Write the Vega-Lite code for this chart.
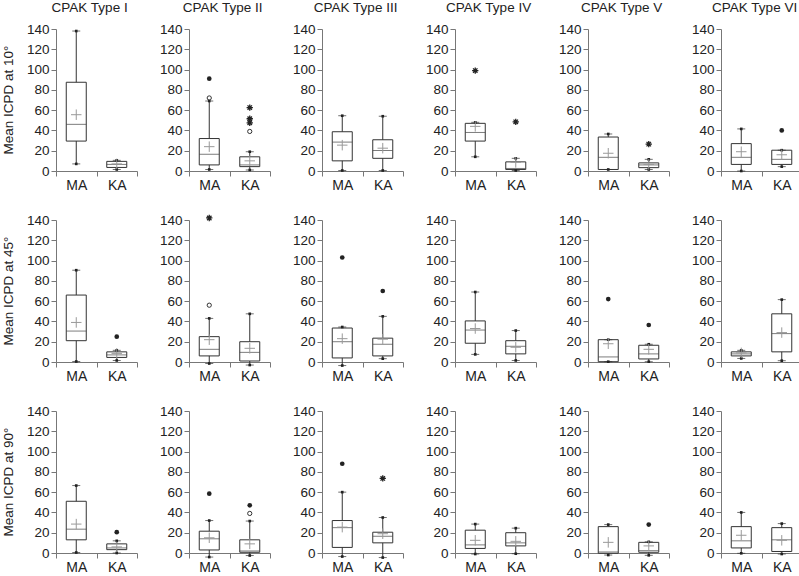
{
  "$schema": "https://vega.github.io/schema/vega-lite/v6.json",
  "background": "white",
  "padding": {"left": 1, "top": 0, "right": 0, "bottom": 0},
  "data": {"values": [
    {"a":"Mean ICPD at 10°","t":"CPAK Type I","g":"MA","k":"box","lo":7,"q1":29.5,"med":46,"q3":87.5,"hi":138,"mean":55.5},
    {"a":"Mean ICPD at 10°","t":"CPAK Type I","g":"KA","k":"box","lo":1.5,"q1":3.5,"med":6.5,"q3":9.5,"hi":10.5,"mean":7},
    {"a":"Mean ICPD at 10°","t":"CPAK Type II","g":"MA","k":"box","lo":1.5,"q1":6,"med":16.5,"q3":32,"hi":69,"mean":24},
    {"a":"Mean ICPD at 10°","t":"CPAK Type II","g":"KA","k":"box","lo":1,"q1":4.3,"med":6,"q3":14,"hi":19,"mean":10},
    {"a":"Mean ICPD at 10°","t":"CPAK Type III","g":"MA","k":"box","lo":0.5,"q1":10,"med":28.5,"q3":38.7,"hi":54.5,"mean":25.5},
    {"a":"Mean ICPD at 10°","t":"CPAK Type III","g":"KA","k":"box","lo":0.5,"q1":12.5,"med":20.2,"q3":30.8,"hi":54,"mean":22.5},
    {"a":"Mean ICPD at 10°","t":"CPAK Type IV","g":"MA","k":"box","lo":14,"q1":29.5,"med":38,"q3":47,"hi":48,"mean":44},
    {"a":"Mean ICPD at 10°","t":"CPAK Type IV","g":"KA","k":"box","lo":0.5,"q1":1.5,"med":2.5,"q3":9,"hi":12.5,"mean":8.5},
    {"a":"Mean ICPD at 10°","t":"CPAK Type V","g":"MA","k":"box","lo":1.5,"q1":1.5,"med":13.5,"q3":33.5,"hi":36.5,"mean":17.5},
    {"a":"Mean ICPD at 10°","t":"CPAK Type V","g":"KA","k":"box","lo":1.5,"q1":3.3,"med":6,"q3":8,"hi":11.5,"mean":6.5},
    {"a":"Mean ICPD at 10°","t":"CPAK Type VI","g":"MA","k":"box","lo":0,"q1":6.5,"med":13.5,"q3":27,"hi":41.5,"mean":19},
    {"a":"Mean ICPD at 10°","t":"CPAK Type VI","g":"KA","k":"box","lo":4.3,"q1":6.5,"med":11.5,"q3":20.5,"hi":20.5,"mean":16},
    {"a":"Mean ICPD at 45°","t":"CPAK Type I","g":"MA","k":"box","lo":0.5,"q1":21,"med":30.5,"q3":66,"hi":90.5,"mean":39},
    {"a":"Mean ICPD at 45°","t":"CPAK Type I","g":"KA","k":"box","lo":1.5,"q1":4.5,"med":7,"q3":10,"hi":11.5,"mean":8.5},
    {"a":"Mean ICPD at 45°","t":"CPAK Type II","g":"MA","k":"box","lo":-1.5,"q1":6,"med":12.5,"q3":25,"hi":43,"mean":22},
    {"a":"Mean ICPD at 45°","t":"CPAK Type II","g":"KA","k":"box","lo":-3,"q1":1,"med":9.5,"q3":20,"hi":47.5,"mean":13.5},
    {"a":"Mean ICPD at 45°","t":"CPAK Type III","g":"MA","k":"box","lo":-3.5,"q1":4,"med":20,"q3":33.5,"hi":34.5,"mean":23},
    {"a":"Mean ICPD at 45°","t":"CPAK Type III","g":"KA","k":"box","lo":3.3,"q1":6,"med":17.5,"q3":23.5,"hi":45,"mean":22.5},
    {"a":"Mean ICPD at 45°","t":"CPAK Type IV","g":"MA","k":"box","lo":7.5,"q1":18.5,"med":31.5,"q3":40.5,"hi":69,"mean":33},
    {"a":"Mean ICPD at 45°","t":"CPAK Type IV","g":"KA","k":"box","lo":1.5,"q1":8,"med":15.5,"q3":21,"hi":31,"mean":14.5},
    {"a":"Mean ICPD at 45°","t":"CPAK Type V","g":"MA","k":"box","lo":0.3,"q1":0.3,"med":5,"q3":22,"hi":22,"mean":18},
    {"a":"Mean ICPD at 45°","t":"CPAK Type V","g":"KA","k":"box","lo":0.3,"q1":3,"med":8,"q3":16.5,"hi":17.5,"mean":12.5},
    {"a":"Mean ICPD at 45°","t":"CPAK Type VI","g":"MA","k":"box","lo":3.5,"q1":6,"med":8,"q3":10,"hi":11.5,"mean":9},
    {"a":"Mean ICPD at 45°","t":"CPAK Type VI","g":"KA","k":"box","lo":1.3,"q1":10,"med":28,"q3":47.5,"hi":61.5,"mean":29},
    {"a":"Mean ICPD at 90°","t":"CPAK Type I","g":"MA","k":"box","lo":0.5,"q1":13,"med":23.5,"q3":51,"hi":66.5,"mean":28.5},
    {"a":"Mean ICPD at 90°","t":"CPAK Type I","g":"KA","k":"box","lo":0,"q1":3.3,"med":5,"q3":9,"hi":12,"mean":6},
    {"a":"Mean ICPD at 90°","t":"CPAK Type II","g":"MA","k":"box","lo":-4,"q1":3,"med":14,"q3":21.5,"hi":32,"mean":15},
    {"a":"Mean ICPD at 90°","t":"CPAK Type II","g":"KA","k":"box","lo":-2.5,"q1":0.7,"med":2,"q3":13,"hi":31.5,"mean":9},
    {"a":"Mean ICPD at 90°","t":"CPAK Type III","g":"MA","k":"box","lo":-3.5,"q1":5.5,"med":25,"q3":32,"hi":60,"mean":25.5},
    {"a":"Mean ICPD at 90°","t":"CPAK Type III","g":"KA","k":"box","lo":-4.5,"q1":10,"med":16.5,"q3":20.5,"hi":35,"mean":19},
    {"a":"Mean ICPD at 90°","t":"CPAK Type IV","g":"MA","k":"box","lo":-1,"q1":4.5,"med":8,"q3":22.5,"hi":28.5,"mean":12.5},
    {"a":"Mean ICPD at 90°","t":"CPAK Type IV","g":"KA","k":"box","lo":-0.7,"q1":7,"med":10,"q3":20,"hi":24.5,"mean":11.5},
    {"a":"Mean ICPD at 90°","t":"CPAK Type V","g":"MA","k":"box","lo":-2,"q1":-0.3,"med":1,"q3":26,"hi":28,"mean":10.5},
    {"a":"Mean ICPD at 90°","t":"CPAK Type V","g":"KA","k":"box","lo":-2.3,"q1":0.7,"med":2.3,"q3":10.5,"hi":11,"mean":7},
    {"a":"Mean ICPD at 90°","t":"CPAK Type VI","g":"MA","k":"box","lo":-0.3,"q1":5,"med":12,"q3":26,"hi":40,"mean":17.5},
    {"a":"Mean ICPD at 90°","t":"CPAK Type VI","g":"KA","k":"box","lo":-1,"q1":1.5,"med":13,"q3":25,"hi":29,"mean":12.5},
    {"a":"Mean ICPD at 10°","t":"CPAK Type II","g":"MA","k":"dot","v":91},
    {"a":"Mean ICPD at 10°","t":"CPAK Type II","g":"MA","k":"circle","v":72},
    {"a":"Mean ICPD at 10°","t":"CPAK Type II","g":"KA","k":"star","v":62.5},
    {"a":"Mean ICPD at 10°","t":"CPAK Type II","g":"KA","k":"star","v":51.5},
    {"a":"Mean ICPD at 10°","t":"CPAK Type II","g":"KA","k":"star","v":47.5},
    {"a":"Mean ICPD at 10°","t":"CPAK Type II","g":"KA","k":"circle","v":39},
    {"a":"Mean ICPD at 10°","t":"CPAK Type IV","g":"MA","k":"star","v":99},
    {"a":"Mean ICPD at 10°","t":"CPAK Type IV","g":"KA","k":"star","v":48.5},
    {"a":"Mean ICPD at 10°","t":"CPAK Type V","g":"KA","k":"star","v":26.5},
    {"a":"Mean ICPD at 10°","t":"CPAK Type VI","g":"KA","k":"dot","v":40},
    {"a":"Mean ICPD at 45°","t":"CPAK Type I","g":"KA","k":"dot","v":25},
    {"a":"Mean ICPD at 45°","t":"CPAK Type II","g":"MA","k":"star","v":142},
    {"a":"Mean ICPD at 45°","t":"CPAK Type II","g":"MA","k":"circle","v":56},
    {"a":"Mean ICPD at 45°","t":"CPAK Type III","g":"MA","k":"dot","v":103},
    {"a":"Mean ICPD at 45°","t":"CPAK Type III","g":"KA","k":"dot","v":70},
    {"a":"Mean ICPD at 45°","t":"CPAK Type V","g":"MA","k":"dot","v":62},
    {"a":"Mean ICPD at 45°","t":"CPAK Type V","g":"KA","k":"dot","v":36.5},
    {"a":"Mean ICPD at 90°","t":"CPAK Type I","g":"KA","k":"dot","v":20.5},
    {"a":"Mean ICPD at 90°","t":"CPAK Type II","g":"MA","k":"dot","v":58.5},
    {"a":"Mean ICPD at 90°","t":"CPAK Type II","g":"KA","k":"dot","v":47},
    {"a":"Mean ICPD at 90°","t":"CPAK Type II","g":"KA","k":"circle","v":39},
    {"a":"Mean ICPD at 90°","t":"CPAK Type III","g":"MA","k":"dot","v":88},
    {"a":"Mean ICPD at 90°","t":"CPAK Type III","g":"KA","k":"star","v":73.5},
    {"a":"Mean ICPD at 90°","t":"CPAK Type V","g":"KA","k":"dot","v":28}
  ]},
  "facet": {
    "row": {"field": "a", "type": "nominal", "title": null,
      "header": {"labelAngle": -90, "labelOrient": "left", "labelPadding": 4, "labelFontSize": 13.5, "labelFont": "Liberation Sans", "labelColor": "#222"}},
    "column": {"field": "t", "type": "nominal", "title": null,
      "sort": ["CPAK Type I","CPAK Type II","CPAK Type III","CPAK Type IV","CPAK Type V","CPAK Type VI"],
      "header": {"labels": false}}
  },
  "spacing": {"row": 20, "column": 21},
  "resolve": {"axis": {"x": "independent", "y": "independent"}},
  "spec": {
    "width": 81,
    "height": 142,
    "encoding": {
      "x": {"field": "g", "type": "nominal",
        "scale": {"domain": ["MA","KA"], "paddingInner": 0, "paddingOuter": 0},
        "axis": {"title": null, "labelAngle": 0, "tickBand": "extent", "labelFontSize": 14, "labelPadding": 2}}
    },
    "layer": [
      {
        "transform": [{"filter": "datum.k == 'box'"}],
        "mark": {"type": "rule", "color": "#333", "strokeWidth": 1},
        "encoding": {
          "y": {"field": "lo", "type": "quantitative", "scale": {"domain": [0, 140], "nice": false},
            "axis": {"title": null, "values": [0,20,40,60,80,100,120,140], "labelFontSize": 13.5, "grid": false, "labelOverlap": false, "labelBound": false}},
          "y2": {"field": "hi"}
        }
      },
      {
        "transform": [{"filter": "datum.k == 'box'"}],
        "mark": {"type": "bar", "width": 20, "fill": "white", "stroke": "#333", "strokeWidth": 1},
        "encoding": {
          "y": {"field": "q1", "type": "quantitative", "axis": {"title": null, "values": [0,20,40,60,80,100,120,140], "labelFontSize": 13.5, "grid": false, "labelOverlap": false, "labelBound": false}},
          "y2": {"field": "q3"}
        }
      },
      {
        "transform": [{"filter": "datum.k == 'box'"}],
        "mark": {"type": "tick", "size": 20, "thickness": 1, "color": "#444"},
        "encoding": {"y": {"field": "med", "type": "quantitative", "axis": {"title": null, "values": [0,20,40,60,80,100,120,140], "labelFontSize": 13.5, "grid": false, "labelOverlap": false, "labelBound": false}}}
      },
      {
        "transform": [{"filter": "datum.k == 'box'"}, {"fold": ["lo", "hi"], "as": ["ck", "cv"]}],
        "mark": {"type": "tick", "size": 8, "thickness": 1, "color": "#333"},
        "encoding": {"y": {"field": "cv", "type": "quantitative", "axis": {"title": null, "values": [0,20,40,60,80,100,120,140], "labelFontSize": 13.5, "grid": false, "labelOverlap": false, "labelBound": false}}}
      },
      {
        "transform": [{"filter": "datum.k == 'box'"}, {"fold": ["lo", "hi"], "as": ["ck", "cv"]}],
        "mark": {"type": "point", "shape": "square", "filled": true, "size": 7, "color": "#222", "opacity": 1},
        "encoding": {"y": {"field": "cv", "type": "quantitative", "axis": {"title": null, "values": [0,20,40,60,80,100,120,140], "labelFontSize": 13.5, "grid": false, "labelOverlap": false, "labelBound": false}}}
      },
      {
        "transform": [{"filter": "datum.k == 'box'"}],
        "mark": {"type": "point", "shape": "M-1,0L1,0M0,-1L0,1", "filled": false, "size": 110, "stroke": "#999", "strokeWidth": 1, "opacity": 1},
        "encoding": {"y": {"field": "mean", "type": "quantitative", "axis": {"title": null, "values": [0,20,40,60,80,100,120,140], "labelFontSize": 13.5, "grid": false, "labelOverlap": false, "labelBound": false}}}
      },
      {
        "transform": [{"filter": "datum.k == 'dot'"}],
        "mark": {"type": "point", "shape": "circle", "filled": true, "size": 22, "color": "#222", "opacity": 1},
        "encoding": {"y": {"field": "v", "type": "quantitative", "axis": {"title": null, "values": [0,20,40,60,80,100,120,140], "labelFontSize": 13.5, "grid": false, "labelOverlap": false, "labelBound": false}}}
      },
      {
        "transform": [{"filter": "datum.k == 'circle'"}],
        "mark": {"type": "point", "shape": "circle", "filled": false, "size": 18, "stroke": "#333", "strokeWidth": 1, "opacity": 1},
        "encoding": {"y": {"field": "v", "type": "quantitative", "axis": {"title": null, "values": [0,20,40,60,80,100,120,140], "labelFontSize": 13.5, "grid": false, "labelOverlap": false, "labelBound": false}}}
      },
      {
        "transform": [{"filter": "datum.k == 'star'"}],
        "mark": {"type": "point", "shape": "M-1,0L1,0M0,-1L0,1M-0.7,-0.7L0.7,0.7M-0.7,0.7L0.7,-0.7", "filled": false, "size": 40, "stroke": "#222", "strokeWidth": 1.3, "opacity": 1},
        "encoding": {"y": {"field": "v", "type": "quantitative", "axis": {"title": null, "values": [0,20,40,60,80,100,120,140], "labelFontSize": 13.5, "grid": false, "labelOverlap": false, "labelBound": false}}}
      },
      {
        "transform": [{"filter": "datum.k == 'box' && datum.g == 'MA' && datum.a == 'Mean ICPD at 10°'"}],
        "mark": {"type": "text", "fontSize": 13.5, "font": "Liberation Sans", "color": "#222", "baseline": "middle", "align": "center"},
        "encoding": {
          "x": {"datum": "MA", "bandPosition": 0.83},
          "y": {"datum": 161, "type": "quantitative", "axis": {"title": null, "values": [0,20,40,60,80,100,120,140], "labelFontSize": 13.5, "grid": false, "labelOverlap": false, "labelBound": false}},
          "text": {"field": "t"}
        }
      }
    ]
  },
  "config": {
    "view": {"stroke": null},
    "font": "Liberation Sans",
    "axis": {
      "domainColor": "#777", "tickColor": "#777", "tickSize": 5, "labelColor": "#222",
      "labelFont": "Liberation Sans", "domainWidth": 1, "tickWidth": 1, "labelPadding": 2, "labelOverlap": false
    },
    "axisY": {"labelOverlap": false}
  }
}
